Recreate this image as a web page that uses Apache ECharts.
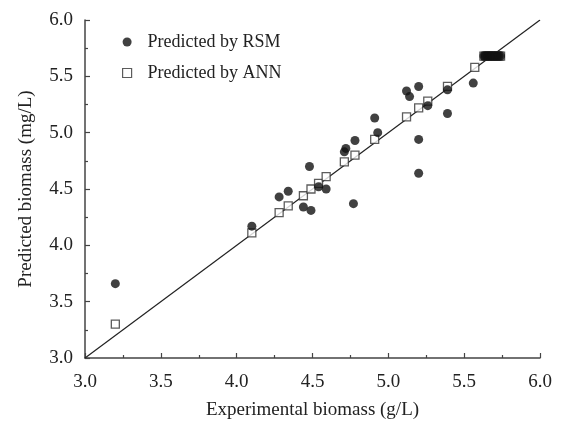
<!DOCTYPE html>
<html>
<head>
<meta charset="utf-8">
<script src="https://cdn.jsdelivr.net/npm/echarts@6/dist/echarts.min.js"></script>
<style>
  html, body { margin: 0; padding: 0; background: #fff; }
  #biomassChart { width: 562px; height: 421px; }
</style>
</head>
<body>
<div id="biomassChart"></div>
<script>
// experimental vs predicted biomass
const rsmPoints = [
  [3.2, 3.66], [4.10, 4.17], [4.28, 4.43], [4.34, 4.48], [4.44, 4.34],
  [4.49, 4.31], [4.48, 4.70], [4.54, 4.52], [4.59, 4.50], [4.71, 4.83],
  [4.72, 4.86], [4.78, 4.93], [4.77, 4.37], [4.91, 5.13], [4.93, 5.00],
  [5.12, 5.37], [5.14, 5.32], [5.20, 5.41], [5.20, 4.94], [5.20, 4.64],
  [5.26, 5.24], [5.39, 5.38], [5.39, 5.17], [5.56, 5.44]
];
const annPoints = [
  [3.2, 3.30], [4.10, 4.11], [4.28, 4.29], [4.34, 4.35], [4.44, 4.44],
  [4.49, 4.50], [4.54, 4.55], [4.59, 4.61], [4.71, 4.74], [4.78, 4.80],
  [4.91, 4.94], [5.12, 5.14], [5.20, 5.22], [5.26, 5.28], [5.39, 5.41],
  [5.57, 5.58]
];
// dense cluster at the top end (drawn as a solid block in the figure)
const clusterX = [5.63, 5.64, 5.65, 5.66, 5.67, 5.68, 5.69, 5.70, 5.71, 5.72, 5.73, 5.74];
const clusterY = 5.68;
const fitLine = [[3.0, 3.0], [6.0, 6.0]];
const axisMin = 3.0;
const axisMax = 6.0;
const axisStep = 0.5;

const serif = "Liberation Serif";
const rsmData = rsmPoints.concat(clusterX.map(function (x) { return [x, clusterY]; }));
const annData = annPoints.concat(clusterX.map(function (x) { return [x, clusterY]; }));

const axisCommon = {
  type: "value",
  min: axisMin,
  max: axisMax,
  interval: axisStep,
  nameLocation: "middle",
  nameTextStyle: { fontFamily: serif, fontSize: 19, color: "#222" },
  axisLine: { show: true, lineStyle: { color: "#444", width: 1.5 } },
  axisTick: { show: true, inside: true, length: 5, lineStyle: { color: "#444", width: 1.2 } },
  minorTick: { show: true, splitNumber: 2, length: 3, lineStyle: { color: "#444", width: 1.2 } },
  splitLine: { show: false },
  axisLabel: {
    fontFamily: serif,
    fontSize: 19,
    color: "#222",
    formatter: function (v) { return v.toFixed(1); }
  }
};

const chart = echarts.init(document.getElementById("biomassChart"));
const option = {
  backgroundColor: "#fff",
  animation: false,
  grid: { left: 85, right: 22, top: 20, bottom: 63, containLabel: false, outerBoundsMode: "none" },
  legend: {
    orient: "vertical",
    left: 117,
    top: 28,
    itemGap: 13,
    itemWidth: 9,
    itemHeight: 9,
    textStyle: { fontFamily: serif, fontSize: 18, color: "#222", padding: [0, 0, 0, 11] },
    data: [
      { name: "Predicted by RSM", icon: "circle" },
      { name: "Predicted by ANN", icon: "rect", itemStyle: { borderWidth: 1.2 } }
    ]
  },
  xAxis: Object.assign({}, axisCommon, {
    name: "Experimental biomass (g/L)",
    nameGap: 43,
    axisLabel: Object.assign({}, axisCommon.axisLabel, { margin: 15 })
  }),
  yAxis: Object.assign({}, axisCommon, {
    name: "Predicted biomass (mg/L)",
    nameGap: 49,
    axisLabel: Object.assign({}, axisCommon.axisLabel, { margin: 12 })
  }),
  series: [
    {
      type: "line",
      data: fitLine,
      symbol: "none",
      silent: true,
      lineStyle: { color: "#222", width: 1.2 },
      z: 1
    },
    {
      name: "Predicted by ANN",
      type: "scatter",
      data: annData,
      symbol: "rect",
      symbolSize: 8,
      itemStyle: { color: "#fff", borderColor: "#333", borderWidth: 1.3 },
      z: 2
    },
    {
      name: "Predicted by RSM",
      type: "scatter",
      data: rsmData,
      symbol: "circle",
      symbolSize: 9,
      itemStyle: { color: "#111" },
      z: 3
    }
  ]
};
chart.setOption(option);
</script>
</body>
</html>
